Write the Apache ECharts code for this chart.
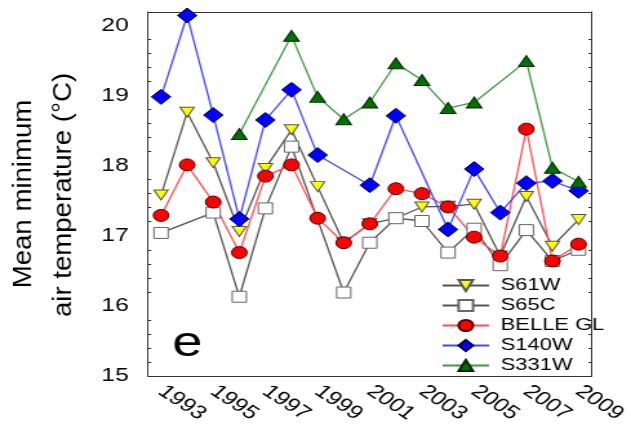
<!DOCTYPE html>
<html>
<head>
<meta charset="utf-8">
<script src="https://cdn.jsdelivr.net/npm/echarts@6/dist/echarts.min.js"></script>
<style>
  html, body { margin: 0; padding: 0; background: #fff; overflow: hidden; }
  /* the figure is laid out narrow and widened horizontally */
  #chart { width: 489px; height: 435px; transform: scaleX(1.2904); transform-origin: 0 0; }
</style>
</head>
<body>
<div id="chart"></div>
<script>
// Years on the x axis
const years = ['1993','1994','1995','1996','1997','1998','1999','2000','2001',
               '2002','2003','2004','2005','2006','2007','2008','2009'];

// Mean minimum air temperature (°C) per station; null = no record
const s61w  = [17.58, 18.76, 18.04, 17.06, 17.96, 18.51, 17.70, 16.90, 17.17, 17.25, 17.41, 17.42, 17.45, 16.71, 17.56, 16.85, 17.23];
const s65c  = [17.04, null, 17.33, 16.13, 17.39, 18.27, null, 16.19, 16.90, 17.25, 17.21, 16.76, 17.10, 16.58, 17.08, 16.64, 16.80];
const belle = [17.29, 18.01, 17.48, 16.76, 17.85, 18.01, 17.25, 16.90, 17.17, 17.67, 17.60, 17.41, 16.98, 16.71, 18.52, 16.64, 16.88];
const s140w = [18.98, 20.14, 18.72, 17.24, 18.65, 19.08, 18.15, null, 17.72, 18.71, null, 17.09, 17.95, 17.33, 17.75, 17.78, 17.64];
const s331w = [null, null, null, 18.45, null, 19.85, 18.98, 18.66, 18.90, 19.46, 19.22, 18.82, 18.90, null, 19.49, 17.97, 17.77];

const yTicks = [15, 16, 17, 18, 19, 20];
const yTitle = ['Mean minimum', 'air temperature (°C)'];
const panelLetter = 'e';

const FONT = '"Liberation Sans", Arial, sans-serif';
const AX = '#333';

function station(name, data, lineColor, symbol, size, fill, border, rotate) {
  return {
    name, type: 'line', data,
    connectNulls: true,
    symbol, symbolSize: size, symbolRotate: rotate || 0,
    showAllSymbol: true,
    lineStyle: { color: lineColor, width: 1.3 },
    itemStyle: { color: fill, borderColor: border, borderWidth: 1 },
    emphasis: { disabled: true },
    animation: false
  };
}

const chart = echarts.init(document.getElementById('chart'));
chart.setOption({
  animation: false,
  backgroundColor: '#fff',
  grid: { left: 114.7, right: 27, top: 12, bottom: 59 },
  legend: {
    orient: 'vertical',
    left: 337, top: 272,
    itemWidth: 36, itemHeight: 14, itemGap: 3,
    textStyle: { fontFamily: FONT, fontSize: 17, color: '#000', padding: [0, 0, 0, 4] },
    data: ['S61W', 'S65C', 'BELLE GL', 'S140W', 'S331W'],
    selectedMode: false
  },
  xAxis: [{
    type: 'category', data: years, boundaryGap: true, position: 'bottom',
    axisLine: { lineStyle: { color: AX, width: 1 } },
    axisTick: { inside: true, alignWithLabel: true, interval: 0, length: 4, lineStyle: { color: AX } },
    axisLabel: {
      interval: 1, rotate: -40, margin: 13,
      fontFamily: FONT, fontSize: 19, color: '#000'
    },
    splitLine: { show: false }
  }, {
    type: 'category', data: years, boundaryGap: true, position: 'top',
    axisLine: { lineStyle: { color: AX, width: 1 } },
    axisTick: { inside: true, alignWithLabel: true, interval: 0, length: 4, lineStyle: { color: AX } },
    axisLabel: { show: false },
    splitLine: { show: false }
  }],
  yAxis: [{
    type: 'value', min: 15, max: 20.19, interval: 1, position: 'left',
    axisLine: { show: true, lineStyle: { color: AX, width: 1 } },
    axisTick: { inside: true, length: 4, lineStyle: { color: AX } },
    minorTick: { show: true, splitNumber: 5, length: 2.5, lineStyle: { color: AX } },
    axisLabel: {
      margin: 15, fontFamily: FONT, fontSize: 19, color: '#000',
      formatter: v => yTicks.indexOf(Math.round(v * 100) / 100) >= 0 ? String(Math.round(v)) : ''
    },
    splitLine: { show: false }
  }, {
    type: 'value', min: 15, max: 20.19, interval: 1, position: 'right',
    axisLine: { show: true, lineStyle: { color: AX, width: 1 } },
    axisTick: { inside: true, length: 4, lineStyle: { color: AX } },
    minorTick: { show: true, splitNumber: 5, length: 2.5, lineStyle: { color: AX } },
    axisLabel: { show: false },
    splitLine: { show: false }
  }],
  graphic: [
    {
      type: 'text', x: 18.6, y: 194, rotation: Math.PI / 2, scaleX: 1.15, scaleY: 0.85,
      style: { text: yTitle[0], fontFamily: FONT, fontSize: 24, fill: '#000', align: 'center', verticalAlign: 'middle' }
    },
    {
      type: 'text', x: 49.6, y: 195, rotation: Math.PI / 2, scaleX: 1.15, scaleY: 0.85,
      style: { text: yTitle[1], fontFamily: FONT, fontSize: 24, fill: '#000', align: 'center', verticalAlign: 'middle' }
    },
    {
      type: 'text', x: 145.3, y: 344,
      style: { text: panelLetter, fontFamily: FONT, fontSize: 42, fill: '#000', align: 'center', verticalAlign: 'middle' }
    }
  ],
  series: [
    station('S61W', s61w, '#555555', 'triangle', [11, 10], '#ffff00', '#555555', 180),
    station('S65C', s65c, '#555555', 'rect', 11, '#ffffff', '#666666'),
    station('BELLE GL', belle, '#ff5050', 'circle', 12, '#ff0000', '#550000'),
    station('S140W', s140w, '#4545ff', 'diamond', [15, 15], '#0000ff', '#000044'),
    station('S331W', s331w, '#3f9a3f', 'triangle', [12, 11], '#007000', '#002800')
  ]
});
</script>
</body>
</html>
